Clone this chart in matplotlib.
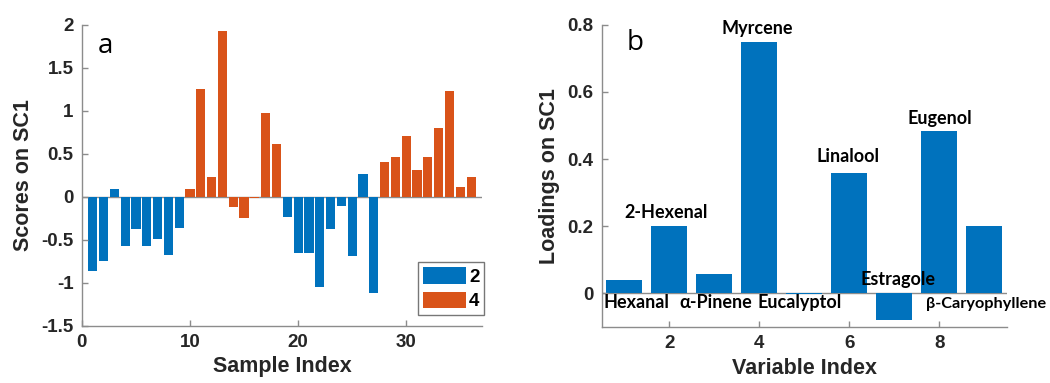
import matplotlib.pyplot as plt
import numpy as np

# ---- data ----
sample_index = np.arange(1, 37)
scores_sc1 = [-0.87, -0.75, 0.085, -0.575, -0.38, -0.575, -0.49, -0.68, -0.365,
              0.09, 1.25, 0.23, 1.93, -0.117, -0.25, -0.016, 0.98, 0.61,
              -0.237, -0.66, -0.66, -1.056, -0.38, -0.105, -0.69, 0.27, -1.126,
              0.40, 0.465, 0.71, 0.31, 0.465, 0.80, 1.23, 0.115, 0.23]
sample_group = ['2'] * 9 + ['4'] * 9 + ['2'] * 9 + ['4'] * 9

variable_index = np.arange(1, 10)
loadings_sc1 = [0.04, 0.20, 0.057, 0.75, -0.003, 0.357, -0.081, 0.484, 0.20]
compounds = ['Hexanal', '2-Hexenal', 'α-Pinene', 'Myrcene', 'Eucalyptol',
             'Linalool', 'Estragole', 'Eugenol', 'β-Caryophyllene']
# where each compound name sits (x, y) in data units
label_x = [1.27, 1.93, 3.03, 3.95, 4.89, 5.96, 7.08, 8.0, 9.03]
label_y = [-0.029, 0.241, -0.029, 0.79, -0.029, 0.407, 0.04, 0.522, -0.032]
label_size = [13, 13, 13, 13, 13, 13, 13, 13, 11.7]

group_colors = {'2': '#0072BD', '4': '#D95319'}
spine_col = '#8c8c8c'
text_col = '#262626'

plt.rcParams['font.family'] = ['Liberation Sans', 'DejaVu Sans']
plt.rcParams['font.weight'] = 'bold'

fig = plt.figure(figsize=(10.5, 3.83), dpi=100)
ax1 = fig.add_axes([0.078, 0.150, 0.381, 0.785])
ax2 = fig.add_axes([0.573, 0.147, 0.386, 0.788])


def style_axis(ax):
    for s in ['top', 'right']:
        ax.spines[s].set_visible(False)
    for s in ['left', 'bottom']:
        ax.spines[s].set_color(spine_col)
        ax.spines[s].set_linewidth(1.0)
    ax.tick_params(direction='in', length=4, width=1.0, colors=spine_col,
                   labelcolor=text_col, labelsize=13.5, pad=6)
    for lab in ax.get_xticklabels() + ax.get_yticklabels():
        lab.set_fontweight('bold')


#%% panel a - scores
for g in ['2', '4']:
    xs = [x for x, gg in zip(sample_index, sample_group) if gg == g]
    ys = [y for y, gg in zip(scores_sc1, sample_group) if gg == g]
    ax1.bar(xs, ys, width=0.85, color=group_colors[g], label=g, linewidth=0)
ax1.axhline(0, color=spine_col, linewidth=1.0, zorder=0)
ax1.set_xlim(0, 37)
ax1.set_ylim(-1.5, 2)
ax1.set_xticks([0, 10, 20, 30])
ax1.set_yticks([-1.5, -1, -0.5, 0, 0.5, 1, 1.5, 2])
ax1.set_yticklabels(['-1.5', '-1', '-0.5', '0', '0.5', '1', '1.5', '2'])
style_axis(ax1)
ax1.set_xlabel('Sample Index', fontsize=15.5, fontweight='bold', color=text_col, labelpad=4)
ax1.set_ylabel('Scores on SC1', fontsize=15.5, fontweight='bold', color=text_col, labelpad=5)
ax1.text(2.2, 1.75, 'a', fontsize=20, fontweight='normal', family='Open Sans',
         ha='center', va='center', color='black')
leg = ax1.legend(loc='lower right', bbox_to_anchor=(1.005, 0.035), fontsize=13.5,
                 frameon=True, fancybox=False, handlelength=2.3, handleheight=1.0,
                 handletextpad=0.15, labelspacing=0.3, borderpad=0.25,
                 borderaxespad=0.0)
leg.get_frame().set_edgecolor('#555555')
leg.get_frame().set_linewidth(1.0)
for t in leg.get_texts():
    t.set_fontweight('bold')

#%% panel b - loadings
ax2.bar(variable_index, loadings_sc1, width=0.8, color='#0072BD', linewidth=0)
ax2.axhline(0, color=spine_col, linewidth=1.0, zorder=0)
ax2.set_xlim(0.5, 9.5)
ax2.set_ylim(-0.1, 0.8)
ax2.set_xticks([2, 4, 6, 8])
ax2.set_yticks([0, 0.2, 0.4, 0.6, 0.8])
ax2.set_yticklabels(['0', '0.2', '0.4', '0.6', '0.8'])
style_axis(ax2)
ax2.set_xlabel('Variable Index', fontsize=15.5, fontweight='bold', color=text_col, labelpad=4)
ax2.set_ylabel('Loadings on SC1', fontsize=15.5, fontweight='bold', color=text_col, labelpad=5)
ax2.text(1.25, 0.745, 'b', fontsize=20, fontweight='normal', family='Open Sans',
         ha='center', va='center', color='black')
for name, x, y, fs in zip(compounds, label_x, label_y, label_size):
    ax2.text(x, y, name, fontsize=fs, fontweight='bold', family=['Lato', 'DejaVu Sans'],
             ha='center', va='center', color='black')

fig.savefig('out.png', dpi=100)
